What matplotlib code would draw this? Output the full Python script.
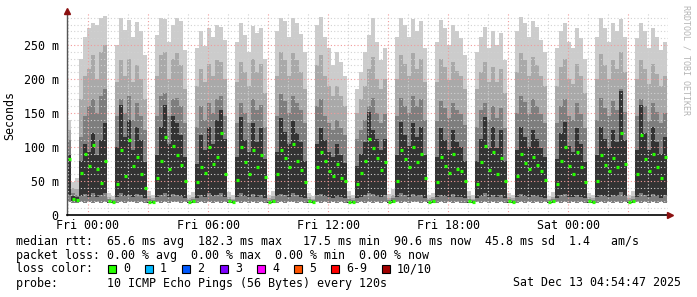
import numpy as np
import matplotlib
matplotlib.use("Agg")
import matplotlib.pyplot as plt
from matplotlib.patches import Rectangle

# time axis: hours relative to Fri 00:00, one bin = 12 min
t_start = -1.05
bin_h = 0.2

tick_hours = [0, 6, 12, 18, 24]
tick_labels = ["Fri 00:00", "Fri 06:00", "Fri 12:00", "Fri 18:00", "Sat 00:00"]
ytick_ms = [0, 50, 100, 150, 200, 250]
ytick_labels = ["0", "50 m", "100 m", "150 m", "200 m", "250 m"]

# smoke boundaries per bin (ms); bursts of 8 bins separated by 2 quiet bins
hi = [140, 48, 55,
      230, 262, 275, 283, 280, 289, 293, 32, 28,
      250, 290, 272, 286, 262, 284, 270, 235, 36, 30,
      265, 290, 288, 255, 280, 290, 285, 242, 30, 34,
      245, 270, 248, 275, 262, 280, 277, 258, 34, 29,
      255, 282, 265, 240, 278, 268, 275, 230, 30, 36,
      270, 290, 285, 262, 290, 282, 266, 240, 33, 28,
      280, 291, 262, 245, 220, 240, 225, 205, 35, 30,
      185, 210, 240, 265, 290, 255, 228, 245, 31, 38,
      262, 290, 280, 262, 288, 270, 285, 246, 30, 33,
      255, 286, 275, 250, 280, 270, 260, 235, 36, 29,
      240, 262, 277, 245, 270, 250, 268, 228, 32, 30,
      270, 291, 282, 262, 285, 276, 258, 240, 28, 34,
      245, 270, 282, 255, 245, 275, 260, 230, 33, 30,
      262, 290, 275, 255, 282, 270, 288, 262, 30, 35,
      260, 282, 270, 245, 275, 262, 243, 255]
p80 = [125, 40, 38,
       170, 205, 215, 235, 200, 240, 250, 26, 24,
       195, 228, 205, 230, 195, 220, 200, 170, 28, 25,
       205, 235, 240, 200, 230, 238, 220, 185, 25, 27,
       190, 215, 195, 222, 205, 228, 225, 200, 27, 24,
       195, 225, 210, 190, 230, 210, 222, 180, 25, 28,
       205, 240, 228, 205, 238, 228, 210, 185, 26, 24,
       220, 235, 205, 190, 175, 190, 175, 160, 28, 25,
       150, 170, 190, 215, 232, 200, 185, 200, 25, 29,
       200, 235, 222, 205, 238, 215, 230, 195, 25, 26,
       195, 230, 218, 198, 225, 212, 205, 185, 28, 24,
       185, 210, 225, 195, 218, 195, 215, 180, 26, 25,
       210, 238, 228, 205, 232, 220, 205, 190, 24, 27,
       190, 218, 230, 200, 192, 222, 205, 180, 26, 25,
       200, 236, 220, 200, 228, 215, 240, 210, 25, 28,
       200, 228, 215, 192, 222, 208, 190, 205]
p60 = [110, 33, 30,
       115, 145, 160, 170, 150, 175, 185, 23, 22,
       145, 170, 150, 175, 140, 165, 145, 125, 24, 22,
       145, 175, 180, 145, 170, 172, 160, 135, 22, 23,
       130, 160, 140, 165, 150, 170, 175, 145, 23, 22,
       135, 165, 150, 135, 170, 155, 162, 130, 22, 24,
       145, 178, 168, 150, 175, 165, 155, 135, 23, 22,
       160, 170, 145, 135, 125, 140, 128, 118, 24, 22,
       112, 125, 140, 160, 172, 150, 135, 148, 22, 25,
       145, 172, 160, 150, 175, 160, 170, 140, 22, 23,
       138, 168, 158, 142, 165, 155, 148, 132, 24, 22,
       130, 155, 165, 140, 160, 142, 158, 128, 23, 22,
       150, 175, 166, 148, 170, 160, 148, 135, 22, 24,
       135, 160, 170, 145, 140, 165, 148, 128, 23, 22,
       140, 172, 158, 145, 168, 155, 185, 152, 22, 24,
       145, 170, 160, 138, 165, 152, 135, 150]
dark = [88, 28, 26,
        80, 105, 92, 120, 88, 110, 135, 21, 20,
        100, 162, 115, 140, 95, 130, 110, 78, 21, 20,
        88, 130, 162, 105, 145, 135, 118, 85, 20, 21,
        75, 118, 95, 130, 105, 140, 154, 112, 21, 20,
        85, 144, 110, 92, 135, 108, 128, 82, 20, 21,
        92, 142, 122, 105, 138, 120, 108, 80, 21, 20,
        105, 128, 110, 92, 85, 105, 88, 76, 21, 20,
        72, 90, 108, 152, 125, 112, 95, 112, 20, 22,
        88, 137, 118, 102, 135, 115, 130, 88, 20, 21,
        85, 128, 110, 95, 125, 108, 100, 80, 21, 20,
        80, 112, 144, 98, 130, 98, 125, 80, 21, 20,
        95, 130, 115, 100, 125, 112, 98, 85, 20, 21,
        82, 120, 137, 102, 92, 128, 105, 78, 21, 20,
        88, 130, 112, 98, 125, 108, 183, 110, 20, 21,
        95, 162, 120, 95, 130, 108, 90, 115]
median = [82, 24, 22,
          62, 90, 72, 103, 67, 47, 80, 20, 19,
          45, 95, 58, 110, 72, 85, 60, 40, 19, 19,
          55, 80, 115, 68, 102, 88, 74, 50, 19, 20,
          48, 70, 62, 100, 75, 86, 120, 60, 20, 19,
          52, 100, 78, 60, 95, 70, 88, 56, 19, 20,
          60, 96, 84, 70, 105, 80, 66, 48, 20, 19,
          70, 92, 80, 64, 58, 75, 55, 50, 19, 19,
          46, 62, 80, 112, 98, 84, 66, 78, 19, 20,
          50, 96, 82, 70, 100, 78, 90, 55, 19, 20,
          48, 85, 72, 62, 90, 68, 64, 50, 20, 19,
          45, 78, 102, 66, 92, 60, 84, 50, 20, 19,
          58, 90, 76, 68, 86, 74, 64, 52, 19, 20,
          45, 80, 100, 72, 60, 92, 70, 48, 20, 19,
          50, 88, 74, 64, 84, 70, 120, 75, 19, 20,
          60, 118, 82, 65, 90, 70, 55, 85]
p20 = [30, 20, 19,
       28, 31, 26, 33, 27, 30, 32, 18, 18,
       26, 32, 28, 30, 27, 31, 29, 25, 18, 18,
       27, 30, 33, 26, 31, 30, 28, 25, 18, 18,
       25, 29, 27, 32, 28, 30, 33, 27, 18, 18,
       26, 32, 28, 26, 31, 27, 30, 25, 18, 18,
       28, 31, 30, 27, 32, 29, 27, 25, 18, 18,
       29, 31, 28, 26, 25, 28, 26, 25, 18, 18,
       25, 27, 29, 33, 31, 28, 27, 29, 18, 18,
       26, 32, 29, 27, 31, 28, 30, 25, 18, 18,
       26, 30, 28, 26, 31, 27, 26, 25, 18, 18,
       25, 28, 32, 27, 30, 26, 29, 25, 18, 18,
       27, 31, 28, 27, 30, 28, 26, 25, 18, 18,
       25, 29, 31, 27, 26, 30, 27, 25, 18, 18,
       26, 30, 28, 27, 30, 28, 34, 28, 18, 18,
       27, 33, 29, 26, 31, 28, 25, 29]
lo = [19, 18, 18,
      19, 18, 19, 18, 19, 18, 19, 17, 17,
      18, 19, 18, 19, 19, 18, 19, 18, 17, 17,
      19, 18, 19, 18, 19, 19, 18, 19, 17, 17,
      18, 19, 18, 19, 18, 19, 18, 19, 17, 17,
      19, 18, 19, 18, 19, 18, 19, 18, 17, 17,
      18, 19, 18, 19, 19, 18, 19, 18, 17, 17,
      19, 18, 19, 18, 19, 18, 19, 18, 17, 17,
      18, 19, 18, 19, 18, 19, 18, 19, 17, 17,
      19, 18, 19, 18, 19, 19, 18, 19, 17, 17,
      18, 19, 18, 19, 18, 19, 18, 18, 17, 17,
      19, 18, 19, 18, 19, 18, 19, 18, 17, 17,
      18, 19, 18, 19, 18, 19, 18, 19, 17, 17,
      19, 18, 19, 18, 19, 18, 19, 18, 17, 17,
      18, 19, 18, 19, 18, 19, 18, 19, 17, 17,
      19, 18, 19, 18, 19, 18, 19, 18]

loss_labels = ["0", "1", "2", "3", "4", "5", "6-9", "10/10"]
loss_colors = ["#26ff00", "#00b8ff", "#0059ff", "#7e00ff", "#ff00ff",
               "#ff5500", "#ff0000", "#a10000"]

stats_rtt = "median rtt:  65.6 ms avg  182.3 ms max   17.5 ms min  90.6 ms now  45.8 ms sd  1.4   am/s"
stats_loss = "packet loss: 0.00 % avg  0.00 % max  0.00 % min  0.00 % now"
probe_txt = "probe:       10 ICMP Echo Pings (56 Bytes) every 120s"
stamp_txt = "Sat Dec 13 04:54:47 2025"

W, H = 697, 297
mono = "DejaVu Sans Mono"
fs = 8.4

fig = plt.figure(figsize=(W / 100, H / 100), dpi=100)
fig.patch.set_facecolor("white")
ax = fig.add_axes([67 / W, 82 / H, 601 / W, 202 / H])

n = len(median)
edges = t_start + bin_h * np.arange(n + 1)
s = lambda v: np.asarray(v, dtype=float) / 1000.0

# smoke layers, light to dark
ax.stairs(s(hi), edges, baseline=s(lo), fill=True, color="#cccccc", lw=0, zorder=1)
ax.stairs(s(p80), edges, baseline=s(lo), fill=True, color="#a9a9a9", lw=0, zorder=1.1)
ax.stairs(s(p60), edges, baseline=s(lo), fill=True, color="#7e7e7e", lw=0, zorder=1.2)
ax.stairs(s(dark), edges, baseline=s(p20), fill=True, color="#333333", lw=0, zorder=1.3)

# median (loss 0 -> green)
ax.hlines(s(median), edges[:-1] + 0.025, edges[1:] - 0.025, colors=loss_colors[0],
          linewidth=2.3, zorder=4)

ax.set_xlim(t_start, 29.0)
ax.set_ylim(0, 0.297)

# grid: minor gray, major red
for h in range(-1, 30):
    if h % 3 == 0:
        ax.axvline(h, color="#f29a9a", lw=0.8, ls=(0, (1, 2)), zorder=3)
    else:
        ax.axvline(h, color="#d2d2d2", lw=0.8, ls=(0, (1, 2)), zorder=3)
for m in range(10, 300, 10):
    if m % 50 == 0:
        ax.axhline(m / 1000, color="#f29a9a", lw=0.8, ls=(0, (1, 2)), zorder=3)
    else:
        ax.axhline(m / 1000, color="#d2d2d2", lw=0.8, ls=(0, (1, 2)), zorder=3)

ax.set_xticks(tick_hours)
ax.set_xticklabels(tick_labels, fontfamily=mono, fontsize=fs)
ax.set_yticks([v / 1000 for v in ytick_ms])
ax.set_yticklabels(ytick_labels, fontfamily=mono, fontsize=fs)
ax.tick_params(axis="x", length=0, pad=3)
ax.tick_params(axis="y", length=0, pad=6)

for side in ["top", "right"]:
    ax.spines[side].set_visible(False)
ax.spines["bottom"].set_color("black")
ax.spines["bottom"].set_linewidth(1.2)
ax.spines["left"].set_color("#555555")
ax.spines["left"].set_linewidth(1.0)
ax.spines["left"].set_zorder(5)
ax.spines["bottom"].set_zorder(5)

# axis arrows
ax.plot([1.004], [0], marker=">", color="#8b1010", markersize=4,
        transform=ax.transAxes, clip_on=False, zorder=6)
ax.plot([0], [1.01], marker="^", color="#8b1010", markersize=4,
        transform=ax.transAxes, clip_on=False, zorder=6)

fig.text(10 / W, 1 - 115 / H, "Seconds", rotation=90, ha="center", va="center",
         fontfamily=mono, fontsize=fs)
fig.text(686 / W, 1 - 5 / H, "RRDTOOL / TOBI OETIKER", rotation=270,
         ha="center", va="top", fontfamily=mono, fontsize=6, color="#b4b4b4")

# legend block
fig.text(16 / W, 1 - 241 / H, stats_rtt, ha="left", va="center", fontfamily=mono, fontsize=fs)
fig.text(16 / W, 1 - 255 / H, stats_loss, ha="left", va="center", fontfamily=mono, fontsize=fs)
fig.text(16 / W, 1 - 269 / H, "loss color:", ha="left", va="center", fontfamily=mono, fontsize=fs)
fig.text(16 / W, 1 - 283 / H, probe_txt, ha="left", va="center", fontfamily=mono, fontsize=fs)
fig.text(681 / W, 1 - 283 / H, stamp_txt, ha="right", va="center", fontfamily=mono, fontsize=fs)

sq_x = [108, 145, 182, 220, 257, 294, 331, 382]
for x, lab, col in zip(sq_x, loss_labels, loss_colors):
    fig.patches.append(Rectangle((x / W, 1 - 273 / H), 8 / W, 8 / H,
                                 transform=fig.transFigure, facecolor=col,
                                 edgecolor="black", linewidth=0.8))
    fig.text((x + 15) / W, 1 - 269 / H, lab, ha="left", va="center",
             fontfamily=mono, fontsize=fs)

fig.savefig("out.png", dpi=100)
